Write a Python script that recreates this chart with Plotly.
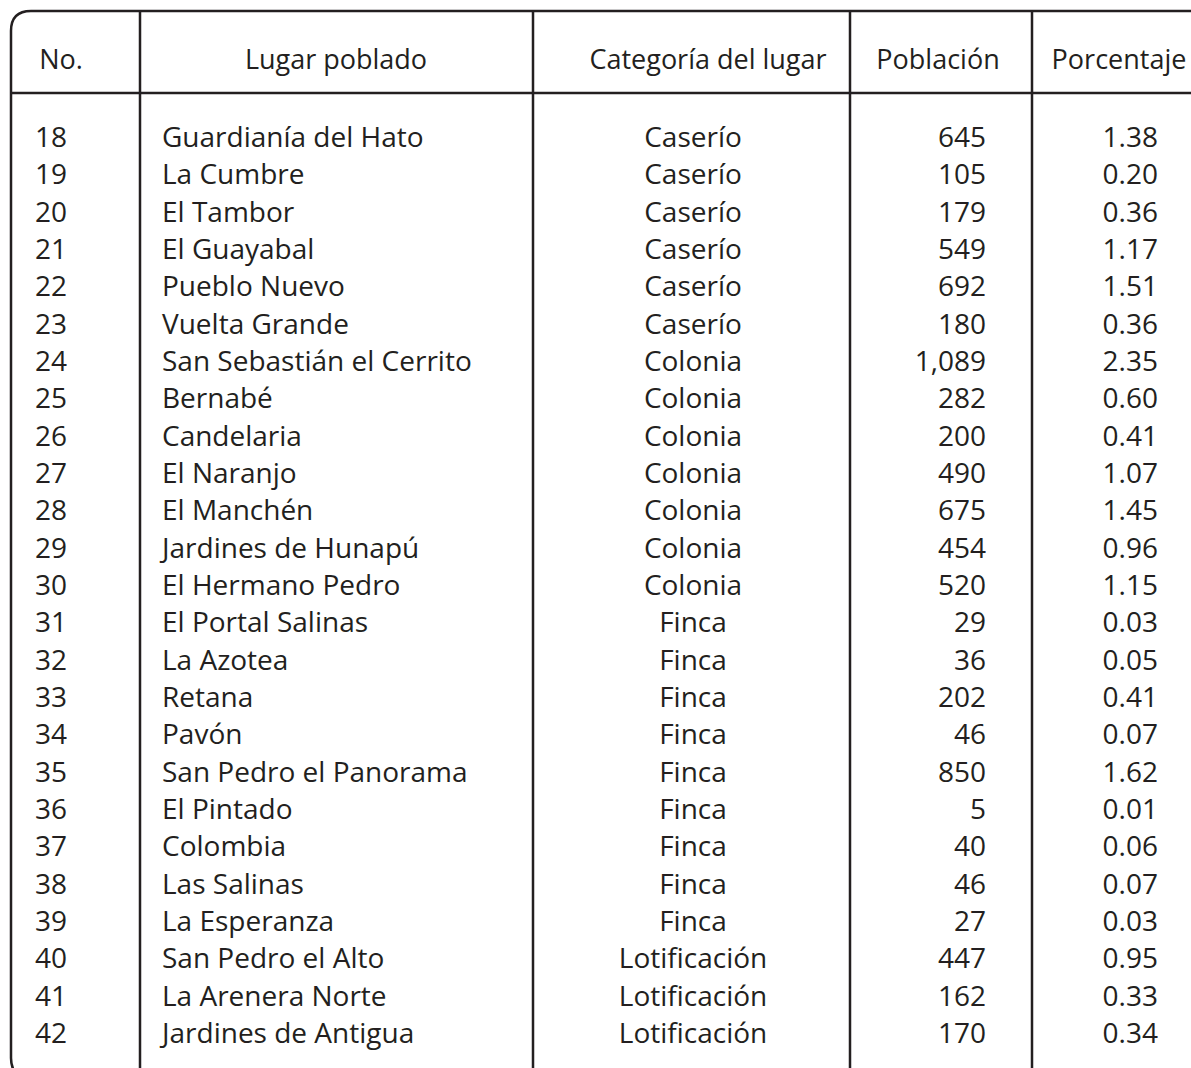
import plotly.graph_objects as go

# Table data.
numeros = list(range(18, 43))
lugares = [
    "Guardianía del Hato", "La Cumbre", "El Tambor", "El Guayabal", "Pueblo Nuevo",
    "Vuelta Grande", "San Sebastián el Cerrito", "Bernabé", "Candelaria", "El Naranjo",
    "El Manchén", "Jardines de Hunapú", "El Hermano Pedro", "El Portal Salinas", "La Azotea",
    "Retana", "Pavón", "San Pedro el Panorama", "El Pintado", "Colombia",
    "Las Salinas", "La Esperanza", "San Pedro el Alto", "La Arenera Norte", "Jardines de Antigua",
]
categorias = (["Caserío"] * 6 + ["Colonia"] * 7 + ["Finca"] * 9 + ["Lotificación"] * 3)
poblacion = [645, 105, 179, 549, 692, 180, 1089, 282, 200, 490, 675, 454, 520,
             29, 36, 202, 46, 850, 5, 40, 46, 27, 447, 162, 170]
porcentaje = [1.38, 0.20, 0.36, 1.17, 1.51, 0.36, 2.35, 0.60, 0.41, 1.07, 1.45, 0.96, 1.15,
              0.03, 0.05, 0.41, 0.07, 1.62, 0.01, 0.06, 0.07, 0.03, 0.95, 0.33, 0.34]
encabezados = ["No.", "Lugar poblado", "Categoría del lugar", "Población", "Porcentaje"]

W, H = 1191, 1068
ink = "#231f20"
font_name = "'Open Sans', sans-serif"
fsize = 28

# page layout in pixels
row_top = 140
row_step = (1036 - 140) / 24
ys = [row_top + i * row_step for i in range(len(numeros))]
col_lines = [140, 533, 850, 1032]

fig = go.Figure()


def col(x, texts, pos):
    fig.add_trace(go.Scatter(
        x=[x] * len(texts), y=ys, text=texts, mode="text",
        textposition=pos, hoverinfo="skip", showlegend=False,
        textfont=dict(family=font_name, size=fsize, color=ink),
    ))


col(35, [str(n) for n in numeros], "middle right")
col(162, lugares, "middle right")
col(693, categorias, "middle center")
col(986, [f"{p:,}" for p in poblacion], "middle left")
col(1158, [f"{p:.2f}" for p in porcentaje], "middle left")

# header row
fig.add_trace(go.Scatter(
    x=[61, 336, 708, 938, 1119], y=[62] * 5, text=encabezados, mode="text",
    textposition="middle center", hoverinfo="skip", showlegend=False,
    textfont=dict(family=font_name, size=fsize - 1, color=ink),
))

line = dict(color=ink, width=2.5)
shapes = [
    # outer frame with rounded left corners
    dict(type="path", path=f"M {W+5},11 L 31,11 Q 11,11 11,31 L 11,1058 Q 11,1078 31,1078 L {W+5},1078",
         line=line),
    # header rule
    dict(type="line", x0=11, x1=W + 5, y0=93, y1=93, line=line),
]
for cx in col_lines:
    shapes.append(dict(type="line", x0=cx, x1=cx, y0=11, y1=H + 5, line=line))

fig.update_layout(
    width=W, height=H,
    margin=dict(l=0, r=0, t=0, b=0),
    paper_bgcolor="white", plot_bgcolor="white",
    xaxis=dict(range=[0, W], visible=False, fixedrange=True),
    yaxis=dict(range=[H, 0], visible=False, fixedrange=True),
    shapes=shapes,
)

# drop the default 8px page margin so the figure fills the window exactly
fig.write_html(
    "out.html",
    config={"displayModeBar": False},
    post_script="document.body.style.margin='0';document.body.style.overflow='hidden';",
)
